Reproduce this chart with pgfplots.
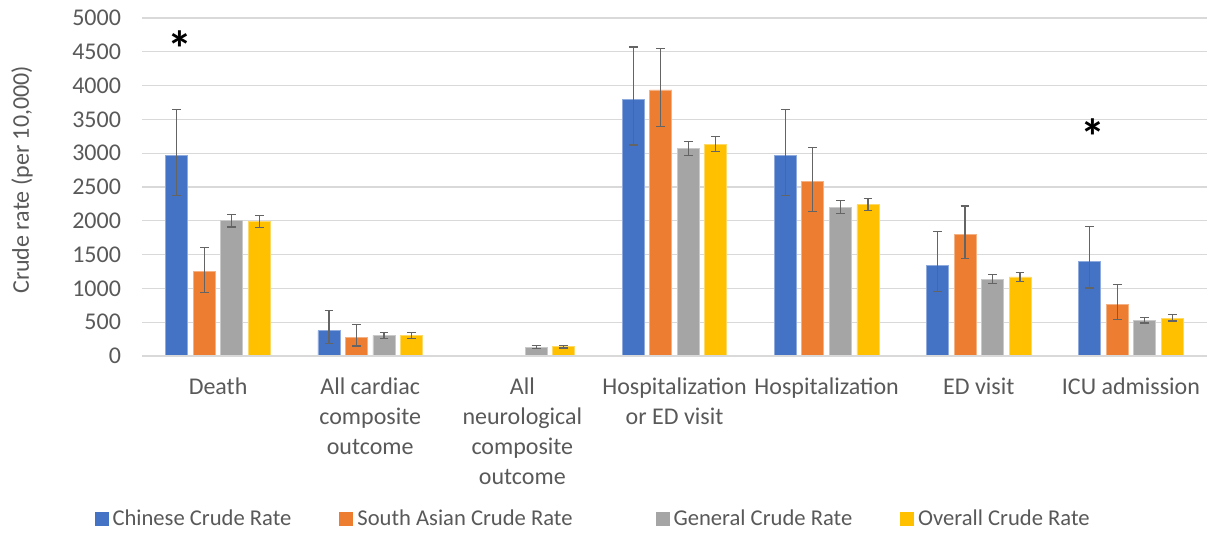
\documentclass[border=0pt]{standalone}
\usepackage{pgfplots}
\pgfplotsset{compat=1.18}
\usepackage{pgfplotstable}
\usepackage{fontspec}
\setmainfont{Carlito}

\definecolor{cblue}{HTML}{4472C4}
\definecolor{corange}{HTML}{ED7D31}
\definecolor{cgray}{HTML}{A5A5A5}
\definecolor{cyellow}{HTML}{FFC000}
\definecolor{txtgray}{HTML}{595959}
\definecolor{gridgray}{HTML}{D9D9D9}
\definecolor{errgray}{HTML}{646464}

% x: category index, y: crude rate, ep / em: upper / lower error
\pgfplotstableread{
x y ep em
0 2960 690 580
1 375 300 187
3 3790 780 670
4 2960 690 585
5 1340 500 385
6 1405 510 400
}\chinese
\pgfplotstableread{
x y ep em
0 1245 365 300
1 270 200 122
3 3935 610 535
4 2580 500 440
5 1795 425 355
6 760 295 225
}\southasian
\pgfplotstableread{
x y ep em
0 2000 90 92
1 306 40 44
2 128 30 20
3 3067 110 105
4 2200 98 95
5 1134 69 64
6 522 50 34
}\general
\pgfplotstableread{
x y ep em
0 1992 84 94
1 306 40 42
2 138 20 20
3 3131 113 103
4 2238 95 83
5 1169 63 64
6 558 53 40
}\overall

\begin{document}
\begin{tikzpicture}
\begin{axis}[
  name=ax,
  scale only axis,
  width=532.5pt, height=169pt,
  ybar=2.75pt, bar width=11pt,
  xmin=-0.5, xmax=6.5,
  ymin=0, ymax=5000,
  ytick={0,500,...,5000},
  xtick={0,...,6},
  xticklabels={Death,{All cardiac\\composite\\outcome},{All\\neurological\\composite\\outcome},{Hospitalization\\or ED visit},Hospitalization,ED visit,ICU admission},
  /pgf/number format/assume math mode=true,
  /pgf/number format/1000 sep={},
  axis line style={draw=none},
  axis x line*=bottom,
  major tick length=0pt,
  ymajorgrids, grid style={gridgray, line width=0.6pt},
  tick label style={font=\fontsize{12}{15}\selectfont, text=txtgray},
  xticklabel style={align=center, yshift=-7.5pt},
  yticklabel style={xshift=-7pt},
  ylabel={Crude rate (per 10,000)},
  ylabel style={at={(axis description cs:-0.1127,0.521)}, anchor=center, font=\fontsize{12}{14}\selectfont, text=txtgray},
  legend style={at={(rel axis cs:0.4245,-0.482)}, anchor=center, draw=none,
    font=\fontsize{11.3}{14}\selectfont, text=txtgray,
    /tikz/every even column/.append style={column sep=22pt}},
  legend columns=4,
  legend cell align=left,
  legend image code/.code={\fill[#1,draw=none] (0pt,-3.5pt) rectangle (7pt,3.5pt);},
  error bars/y dir=both, error bars/y explicit,
  error bars/error bar style={errgray, line width=0.6pt},
  error bars/error mark options={errgray, line width=0.6pt, mark size=2.2pt, rotate=90},
  clip=false,
]
\addplot[fill=cblue, draw=cblue!60!white, line width=0.4pt]
  table[x=x, y=y, y error plus=ep, y error minus=em] {\chinese};
\addplot[fill=corange, draw=corange!60!white, line width=0.4pt]
  table[x=x, y=y, y error plus=ep, y error minus=em] {\southasian};
\addplot[fill=cgray, draw=cgray!60!white, line width=0.4pt]
  table[x=x, y=y, y error plus=ep, y error minus=em] {\general};
\addplot[fill=cyellow, draw=cyellow!60!white, line width=0.4pt]
  table[x=x, y=y, y error plus=ep, y error minus=em] {\overall};
\legend{Chinese Crude Rate, South Asian Crude Rate\rule{17.5pt}{0pt}, General Crude Rate, Overall Crude Rate}
\draw[gridgray, line width=0.6pt] (rel axis cs:0,0) -- (rel axis cs:1,0);
\node[font=\bfseries\fontsize{25}{25}\selectfont] at (axis cs:-0.25,4550) {*};
\node[font=\bfseries\fontsize{25}{25}\selectfont] at (axis cs:5.75,3240) {*};
\end{axis}
\pgfresetboundingbox
\path[use as bounding box] ([shift={(-71pt,-88.5pt)}]ax.south west) rectangle ([shift={(1pt,9pt)}]ax.north east);
\end{tikzpicture}
\end{document}
